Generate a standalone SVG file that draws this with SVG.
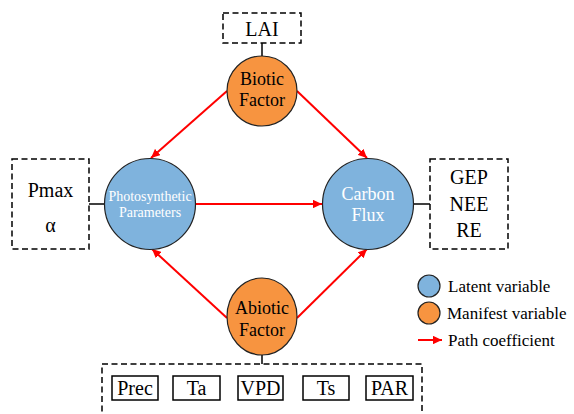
<svg xmlns="http://www.w3.org/2000/svg" width="574" height="414" viewBox="0 0 574 414">
<style>
text{font-family:'Liberation Serif','Times New Roman','DejaVu Serif',serif;text-anchor:middle;fill:#000}
.dash{fill:#fff;stroke:#000;stroke-width:1.5;stroke-dasharray:6 3.5}
.box{fill:#fff;stroke:#000;stroke-width:1.5}
.lat{fill:#7FB3DD;stroke:#222;stroke-width:1.2}
.man{fill:#F79440;stroke:#222;stroke-width:1.2}
.tie{stroke:#000;stroke-width:1.5;fill:none}
.path{stroke:#FF0000;stroke-width:2;fill:none;marker-end:url(#ah)}
.w{fill:#fff}
.lg{text-anchor:start;font-size:17px}
</style>
<defs>
<marker id="ah" viewBox="0 0 10 10" refX="10" refY="5" markerWidth="4.5" markerHeight="4.2" orient="auto" markerUnits="strokeWidth" preserveAspectRatio="none">
<path d="M0,0 L10,5 L0,10 z" fill="#FF0000"/>
</marker>
</defs>
<g id="connectors">
<line class="tie" x1="262" y1="43" x2="262" y2="56"/>
<line class="tie" x1="89" y1="204" x2="104" y2="204"/>
<line class="tie" x1="413" y1="204" x2="430" y2="204"/>
<line class="tie" x1="262" y1="355" x2="262" y2="364"/>
<line class="path" x1="227" y1="91" x2="151" y2="158"/>
<line class="path" x1="297" y1="91" x2="367" y2="158"/>
<line class="path" x1="195" y1="204" x2="322" y2="204"/>
<line class="path" x1="227" y1="318" x2="152" y2="249"/>
<line class="path" x1="297" y1="318" x2="367" y2="249"/>
</g>
<g id="lai">
<rect class="dash" x="223" y="13" width="78" height="30"/>
<text x="262" y="36" font-size="20">LAI</text>
</g>
<g id="biotic">
<circle class="man" cx="262" cy="91" r="35"/>
<text x="262" y="85" font-size="18">Biotic</text>
<text x="262" y="106" font-size="18">Factor</text>
</g>
<g id="photo">
<circle class="lat" cx="150" cy="204" r="45.5"/>
<text class="w" x="150" y="201" font-size="14">Photosynthetic</text>
<text class="w" x="150" y="217" font-size="14">Parameters</text>
</g>
<g id="carbon">
<circle class="lat" cx="368" cy="204" r="45.5"/>
<text class="w" x="368" y="200" font-size="18">Carbon</text>
<text class="w" x="368" y="221" font-size="18">Flux</text>
</g>
<g id="pmax">
<rect class="dash" x="12" y="159" width="77" height="90"/>
<text x="50.5" y="197" font-size="20">Pmax</text>
<text x="50.5" y="232" font-size="20">α</text>
</g>
<g id="gep">
<rect class="dash" x="430" y="159" width="78" height="90"/>
<text x="469" y="184" font-size="20">GEP</text>
<text x="469" y="211" font-size="20">NEE</text>
<text x="469" y="237" font-size="20">RE</text>
</g>
<g id="abiotic">
<ellipse class="man" cx="262" cy="316.5" rx="35" ry="38.5"/>
<text x="262" y="314" font-size="18">Abiotic</text>
<text x="262" y="336" font-size="18">Factor</text>
</g>
<g id="env">
<rect class="dash" x="102" y="364" width="320" height="60"/>
<g id="prec"><rect class="box" x="112" y="376" width="46" height="24"/><text x="135" y="395" font-size="20">Prec</text></g>
<g id="ta"><rect class="box" x="173" y="376" width="47" height="24"/><text x="196.5" y="395" font-size="20">Ta</text></g>
<g id="vpd"><rect class="box" x="238" y="376" width="45" height="24"/><text x="260.5" y="395" font-size="20">VPD</text></g>
<g id="ts"><rect class="box" x="303" y="376" width="46" height="24"/><text x="326" y="395" font-size="20">Ts</text></g>
<g id="par"><rect class="box" x="366" y="376" width="47" height="24"/><text x="389.5" y="395" font-size="20">PAR</text></g>
</g>
<g id="legend">
<circle class="lat" cx="429" cy="286" r="11"/>
<text class="lg" x="448" y="292">Latent variable</text>
<circle class="man" cx="429" cy="313" r="11"/>
<text class="lg" x="447" y="319">Manifest variable</text>
<line class="path" x1="418" y1="340" x2="442" y2="340"/>
<text class="lg" x="448" y="346">Path coefficient</text>
</g>
</svg>
